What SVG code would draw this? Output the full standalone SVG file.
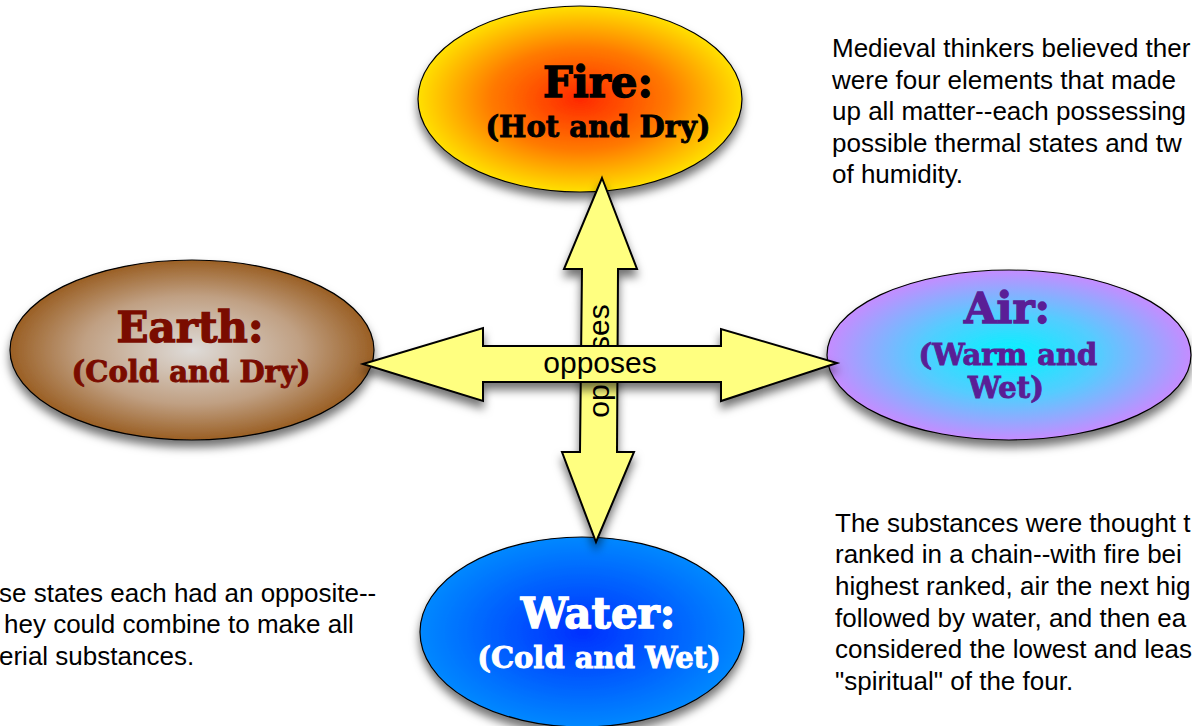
<svg xmlns="http://www.w3.org/2000/svg" width="1192" height="726" viewBox="0 0 1192 726">
<defs>
<radialGradient id="gFire" cx="0.5" cy="0.5" r="0.5"><stop offset="0" stop-color="#ff2800"/><stop offset="0.55" stop-color="#ff7a00"/><stop offset="1" stop-color="#ffe000"/></radialGradient>
<radialGradient id="gEarth" cx="0.5" cy="0.5" r="0.5"><stop offset="0" stop-color="#dedbd8"/><stop offset="0.6" stop-color="#c0a083"/><stop offset="1" stop-color="#9a5f24"/></radialGradient>
<radialGradient id="gAir" cx="0.5" cy="0.5" r="0.5"><stop offset="0" stop-color="#00f4ff"/><stop offset="0.5" stop-color="#55ccff"/><stop offset="1" stop-color="#c58cff"/></radialGradient>
<radialGradient id="gWater" cx="0.5" cy="0.5" r="0.5"><stop offset="0" stop-color="#0030ff"/><stop offset="1" stop-color="#0088ff"/></radialGradient>
<filter id="sh" x="-20%" y="-20%" width="140%" height="150%"><feDropShadow dx="0" dy="7" stdDeviation="5" flood-color="#000" flood-opacity="0.55"/></filter>
<style>
.node{stroke:#000;stroke-width:1.2;filter:url(#sh)}
.arrow{fill:#ffff80;stroke:#000;stroke-width:2;stroke-linejoin:miter;filter:url(#sh)}
.t1{font-family:"DejaVu Serif","Liberation Serif",serif;font-weight:bold;font-size:42px;text-anchor:middle;stroke-width:1.3}
.t2{font-family:"DejaVu Serif","Liberation Serif",serif;font-weight:bold;font-size:29px;text-anchor:middle;stroke-width:0.9}
.lab{font-family:"Liberation Sans",Arial,sans-serif;font-size:30px;text-anchor:middle;fill:#000}
.note{font-family:"Liberation Sans",Arial,sans-serif;font-size:26px;fill:#000}
</style>
</defs>
<g id="fire">
<ellipse class="node" cx="580" cy="99" rx="162" ry="93" fill="url(#gFire)"/>
<text class="t1" x="598" y="97" fill="#000" stroke="#000">Fire:</text>
<text class="t2" x="598" y="137" fill="#000" stroke="#000">(Hot and Dry)</text>
</g>
<g id="earth">
<ellipse class="node" cx="192" cy="350" rx="182" ry="90" fill="url(#gEarth)"/>
<text class="t1" x="190" y="342" fill="#7a0c00" stroke="#7a0c00">Earth:</text>
<text class="t2" x="191" y="382" fill="#7a0c00" stroke="#7a0c00">(Cold and Dry)</text>
</g>
<g id="air">
<ellipse class="node" cx="1009" cy="355" rx="182" ry="85" fill="url(#gAir)"/>
<text class="t1" x="1007" y="323" fill="#5a1e96" stroke="#5a1e96">Air:</text>
<text class="t2" x="1008" y="365" fill="#5a1e96" stroke="#5a1e96">(Warm and</text>
<text class="t2" x="1006" y="398" fill="#5a1e96" stroke="#5a1e96">Wet)</text>
</g>
<g id="water">
<ellipse class="node" cx="582" cy="632" rx="162" ry="95" fill="url(#gWater)"/>
<text class="t1" x="598" y="628" fill="#fff" stroke="#fff">Water:</text>
<text class="t2" x="599" y="668" fill="#fff" stroke="#fff">(Cold and Wet)</text>
</g>
<g id="connectors">
<polygon class="arrow" points="602,178 637,269 618,269 617,452 634,452 596,542 562,452 580,452 582,269 564,269"/>
<text class="lab" transform="translate(609,361) rotate(-90)">opposes</text>
<polygon class="arrow" points="363,364 483,328 483,346 721,346 721,329 837,363 721,401 721,382 483,382 483,401"/>
<text class="lab" x="600" y="373">opposes</text>
</g>
<g id="note-top-right">
<text class="note" x="832" y="57">Medieval thinkers believed ther</text>
<text class="note" x="832" y="89">were four elements that made</text>
<text class="note" x="832" y="120">up all matter--each possessing</text>
<text class="note" x="832" y="152">possible thermal states and tw</text>
<text class="note" x="832" y="183">of humidity.</text>
</g>
<g id="note-bottom-right">
<text class="note" x="835" y="532">The substances were thought t</text>
<text class="note" x="835" y="563">ranked in a chain--with fire bei</text>
<text class="note" x="835" y="595">highest ranked, air the next hig</text>
<text class="note" x="835" y="627">followed by water, and then ea</text>
<text class="note" x="835" y="658">considered the lowest and leas</text>
<text class="note" x="835" y="690">"spiritual" of the four.</text>
</g>
<g id="note-bottom-left">
<text class="note" x="-1" y="602">se states each had an opposite--</text>
<text class="note" x="4" y="633">hey could combine to make all</text>
<text class="note" x="-1" y="665">erial substances.</text>
</g>
</svg>
